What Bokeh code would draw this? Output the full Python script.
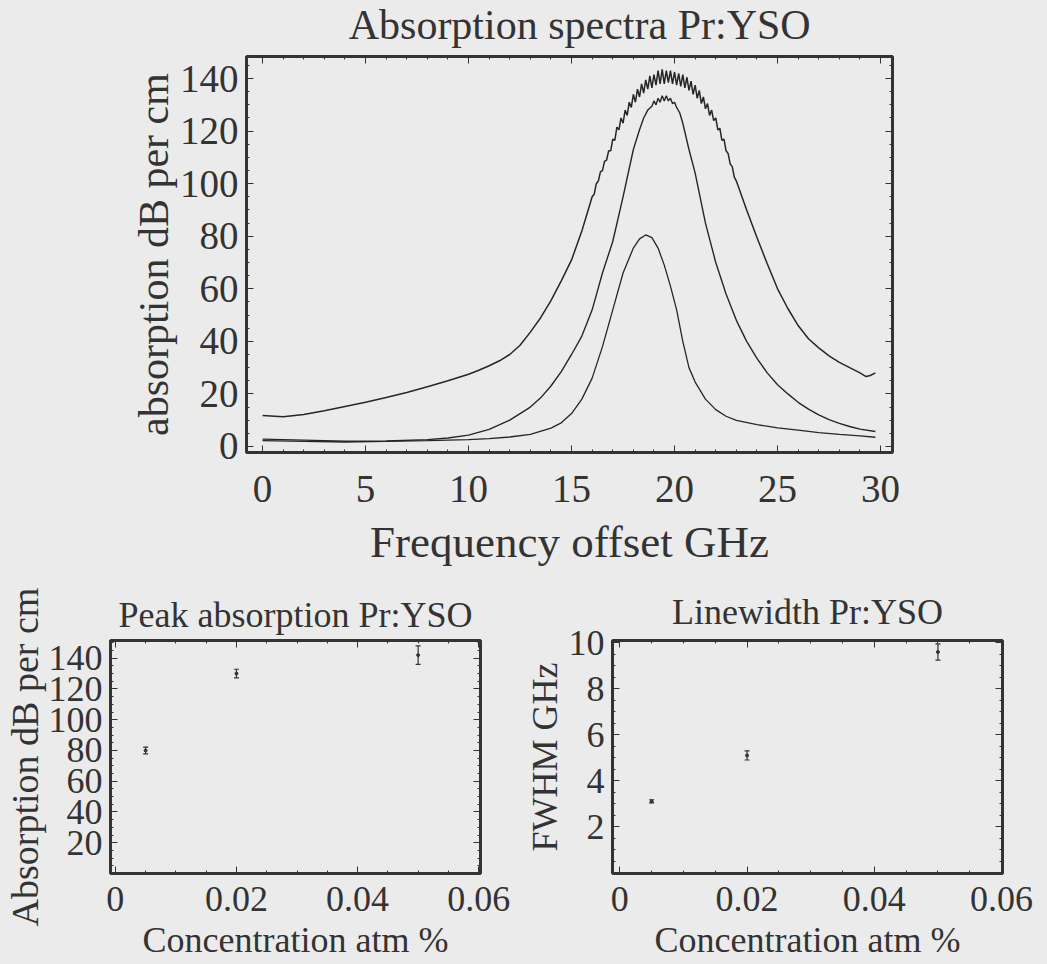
from bokeh.plotting import figure
from bokeh.models import LinearAxis, Range1d, FixedTicker, ColumnDataSource, Whisker, TeeHead
from bokeh.core.properties import value
from bokeh.layouts import column, row
from bokeh.embed import file_html
from bokeh.resources import INLINE

# ---------------- data ----------------
# broad spectrum (highest concentration)
freq_a = [0, 1, 2, 3, 4, 5, 6, 7, 8, 9, 10, 10.5, 11, 11.5, 12, 12.5, 13, 13.5, 14, 14.5, 15,
          15.5, 16.0, 16.1, 16.2, 16.3, 16.4, 16.5, 16.6, 16.7, 16.8, 16.9,
          17.0, 17.1, 17.2, 17.3, 17.4, 17.5, 17.6, 17.7, 17.8, 17.9,
          18.0, 18.1, 18.2, 18.3, 18.4, 18.5, 18.6, 18.7, 18.8, 18.9,
          19.0, 19.1, 19.2, 19.3, 19.4, 19.5, 19.6, 19.7, 19.8, 19.9,
          20.0, 20.1, 20.2, 20.3, 20.4, 20.5, 20.6, 20.7, 20.8, 20.9,
          21.0, 21.1, 21.2, 21.3, 21.4, 21.5, 21.6, 21.7, 21.8, 21.9,
          22.0, 22.1, 22.2, 22.3, 22.4, 22.5, 22.6, 22.7, 22.8, 22.9, 23.0,
          23.5, 24, 24.5, 25, 25.5, 26, 26.5, 27, 27.5, 28, 28.5, 29, 29.3, 29.5, 29.75]
abs_a = [11.8, 11.3, 12.2, 13.6, 15.2, 16.8, 18.6, 20.5, 22.7, 25.0, 27.5, 29.0, 30.7, 32.6,
         35.0, 38.5, 43.5, 49.0, 55.5, 63, 71,
         82, 95, 96, 100, 101, 104.5, 105, 108.5, 109, 112.5, 112.5,
         117, 116.5, 121.5, 120.5, 125, 123, 128, 126, 131, 129,
         134, 131, 136, 133, 138, 134.5, 139.5, 136, 141, 136.5,
         141.5, 137.5, 143, 138, 143.5, 138, 143, 138.5, 143, 138,
         142.5, 137.5, 142, 137, 141.5, 136.5, 140.5, 135.5, 139, 134,
         137.5, 132.5, 135.5, 130.5, 133, 128.5, 130.5, 126, 128, 124,
         125, 120.5, 121, 116.5, 117, 112.5, 111.5, 107.5, 106.5, 102.5, 101,
         90, 79.5, 69.5, 60, 52.5, 46, 41, 37.5, 34.5, 32, 30, 28, 26.6, 27, 28]

# medium spectrum
freq_b = [0, 2, 4, 6, 8, 9, 10, 11, 12, 12.5, 13, 13.5, 14, 14.5, 15, 15.5, 16, 16.5, 17, 17.5,
          18, 18.3, 18.5, 18.7, 18.9, 19.0, 19.1, 19.2, 19.3, 19.4, 19.5, 19.6, 19.7, 19.8,
          19.9, 20.0, 20.1, 20.25, 20.4, 20.7, 21, 21.5, 22, 22.5, 23,
          23.5, 24, 24.5, 25, 25.5, 26, 26.5, 27, 27.5, 28, 28.5, 29, 29.75]
abs_b = [2.8, 2.4, 2.0, 2.1, 2.6, 3.2, 4.3, 6.5, 10, 12.5, 15, 18.5, 23, 28.5, 35, 42, 52, 66, 78,
         95, 113, 120.5, 125, 128, 129.5, 131.5, 130, 132.5, 131, 133.5, 131.5, 133.5, 131.5,
         132.5, 130.5, 131, 129, 127, 123, 113, 104, 85, 70, 58, 48,
         40, 33.5, 28, 23.5, 20, 16.8, 14.2, 12, 10.2, 8.8, 7.6, 6.6, 5.7]

# narrow spectrum (lowest concentration)
freq_c = [0, 2, 4, 6, 8, 10, 11, 12, 13, 14, 14.5, 15, 15.5, 16, 16.5, 17, 17.5, 18, 18.3, 18.6,
          18.9, 19.2, 19.5, 19.8, 20.1, 20.4, 20.7, 21, 21.5, 22, 22.5, 23, 24, 25, 26, 27, 28,
          29, 29.75]
abs_c = [2.2, 1.9, 1.7, 1.9, 2.2, 2.6, 3.0, 3.6, 4.6, 7.0, 9.0, 12.5, 18, 26, 38, 52, 66, 75.5,
         79, 80.5, 79.5, 75.5, 69, 61, 52, 40, 30, 24.5, 18, 14, 11.5, 9.9, 8.3, 7.1, 6.2, 5.3,
         4.6, 4.0, 3.5]

# concentration series
conc = [0.005, 0.02, 0.05]
peak_abs = [80, 130, 142]
peak_err = [2.2, 2.8, 6.0]
fwhm = [3.1, 5.1, 9.6]
fwhm_err = [0.07, 0.2, 0.35]

spec_xticks = [0, 5, 10, 15, 20, 25, 30]
spec_yticks = [0, 20, 40, 60, 80, 100, 120, 140]
conc_xticks = [0, 0.02, 0.04, 0.06]
peak_yticks = [20, 40, 60, 80, 100, 120, 140]
fwhm_yticks = [2, 4, 6, 8, 10]

titles = ["Absorption spectra Pr:YSO", "Peak absorption Pr:YSO", "Linewidth Pr:YSO"]

# ---------------- styling ----------------
BG = "#ebebeb"
INK = "#333333"
FONT = "Liberation Serif"


def frame_axes(p, xt, xminor, yt, yminor, tick_px, lab_px, xlabel, ylabel,
               xstand, ystand, xlstand, ylstand, ylab_px=None):
    p.background_fill_color = BG
    p.border_fill_color = BG
    p.outline_line_color = INK
    p.outline_line_width = 3
    p.xgrid.visible = False
    p.ygrid.visible = False
    p.title.text_font = FONT
    p.title.text_font_style = "normal"
    p.title.text_color = INK
    p.title.align = "center"

    specs = [("below", xt, xminor, True), ("left", yt, yminor, True),
             ("above", xt, xminor, False), ("right", yt, yminor, False)]
    for side, ticks, minor, labelled in specs:
        if side == "below":
            ax = p.xaxis[0]
        elif side == "left":
            ax = p.yaxis[0]
        else:
            ax = LinearAxis()
            p.add_layout(ax, side)
        ax.ticker = FixedTicker(ticks=ticks, minor_ticks=minor)
        ax.axis_line_color = None
        ax.major_tick_in = 7
        ax.major_tick_out = 0
        ax.minor_tick_in = 3
        ax.minor_tick_out = 0
        ax.major_tick_line_color = INK
        ax.minor_tick_line_color = INK
        if labelled:
            ax.major_label_text_font = FONT
            ax.major_label_text_font_size = f"{tick_px}px"
            ax.major_label_text_color = INK
            ax.axis_label_text_font = FONT
            ax.axis_label_text_font_style = "normal"
            ax.axis_label_text_color = INK
            if side == "below":
                ax.axis_label = xlabel
                ax.axis_label_text_font_size = f"{lab_px}px"
                ax.major_label_standoff = xstand
                ax.axis_label_standoff = xlstand
            else:
                ax.axis_label = ylabel
                ax.axis_label_text_font_size = f"{ylab_px or lab_px}px"
                ax.major_label_standoff = ystand
                ax.axis_label_standoff = ylstand
        else:
            ax.major_label_text_font_size = "1px"
            ax.major_label_text_color = None
            ax.major_label_standoff = 0
            ax.axis_label = None


# ---------------- top title strip ----------------
TW, TH, TL, TR, TT, TB = 1047, 526, 246, 155, 2, 128
STRIP_H = 54
strip = figure(width=TW, height=STRIP_H, output_backend="svg", toolbar_location=None,
               x_range=Range1d(0, TW), y_range=Range1d(0, STRIP_H),
               x_axis_location=None, y_axis_location=None,
               min_border=0, min_border_left=0, min_border_right=0,
               min_border_top=0, min_border_bottom=0, outline_line_color=None)
strip.grid.visible = False
strip.background_fill_color = BG
strip.border_fill_color = BG
strip.text(x=[TL + (TW - TL - TR) / 2 - 29], y=[STRIP_H - 24], text=[titles[0]],
           text_align="center", text_baseline="middle", text_font=value(FONT),
           text_font_size="42px", text_color=INK)

# ---------------- top: spectra ----------------
top = figure(width=TW, height=TH, output_backend="svg", toolbar_location=None,
             x_range=Range1d(-0.78, 30.58), y_range=Range1d(-2.3, 148.4),
             min_border_left=TL, min_border_right=TR, min_border_top=TT, min_border_bottom=TB)
frame_axes(top, spec_xticks, [v for v in range(0, 31) if v % 5],
           spec_yticks, [v for v in range(0, 150, 5) if v % 20],
           39, 45, "Frequency offset GHz", "absorption dB per cm",
           23, 8, 12, 0, ylab_px=42)
for fx, fy, lw in [(freq_a, abs_a, 1.5), (freq_b, abs_b, 1.4), (freq_c, abs_c, 1.3)]:
    top.line(fx, fy, line_color="#262626", line_width=lw)

# ---------------- bottom left: peak absorption ----------------
LW, LH, LL, LR, LT, LB = 517, 384, 110, 37, 60, 91
pl = figure(width=LW, height=LH, output_backend="svg", toolbar_location=None,
            x_range=Range1d(-0.0008, 0.0603), y_range=Range1d(0, 151.5),
            min_border_left=LL, min_border_right=LR, min_border_top=LT, min_border_bottom=LB,
            title=titles[1])
pl.title.text_font_size = "36px"
pl.title.standoff = 12
frame_axes(pl, conc_xticks, [i * 0.005 for i in range(1, 12) if i % 4],
           peak_yticks, [i * 5 for i in range(1, 31) if i % 4],
           36, 36, "Concentration atm %", "Absorption dB per cm",
           13, 8, 6, 0, ylab_px=38)
src_l = ColumnDataSource(dict(x=conc, y=peak_abs,
                              lo=[v - e for v, e in zip(peak_abs, peak_err)],
                              hi=[v + e for v, e in zip(peak_abs, peak_err)]))
pl.add_layout(Whisker(source=src_l, base="x", lower="lo", upper="hi", dimension="height",
                      line_color=INK, line_width=1.2,
                      lower_head=TeeHead(size=5, line_color=INK, line_width=1.2),
                      upper_head=TeeHead(size=5, line_color=INK, line_width=1.2)))
pl.scatter("x", "y", source=src_l, size=3, color=INK)

# ---------------- bottom right: linewidth ----------------
RW, RH, RL, RR, RT, RB = 530, 384, 95, 45, 54, 90
pr = figure(width=RW, height=RH, output_backend="svg", toolbar_location=None,
            x_range=Range1d(-0.00115, 0.06015), y_range=Range1d(-0.04, 10.1),
            min_border_left=RL, min_border_right=RR, min_border_top=RT, min_border_bottom=RB,
            title=titles[2])
pr.title.text_font_size = "36px"
pr.title.standoff = 17
frame_axes(pr, conc_xticks, [i * 0.005 for i in range(1, 12) if i % 4],
           fwhm_yticks, [i * 0.5 for i in range(1, 21) if i % 4],
           36, 36, "Concentration atm %", "FWHM GHz",
           13, 8, 6, 1)
src_r = ColumnDataSource(dict(x=conc, y=fwhm,
                              lo=[v - e for v, e in zip(fwhm, fwhm_err)],
                              hi=[v + e for v, e in zip(fwhm, fwhm_err)]))
pr.add_layout(Whisker(source=src_r, base="x", lower="lo", upper="hi", dimension="height",
                      line_color=INK, line_width=1.2,
                      lower_head=TeeHead(size=5, line_color=INK, line_width=1.2),
                      upper_head=TeeHead(size=5, line_color=INK, line_width=1.2)))
pr.scatter("x", "y", source=src_r, size=3, color=INK)

layout = column(strip, top, row(pl, pr, spacing=0), spacing=0)
layout.styles = {"background-color": BG}

open("out.html", "w").write(file_html(layout, INLINE))
